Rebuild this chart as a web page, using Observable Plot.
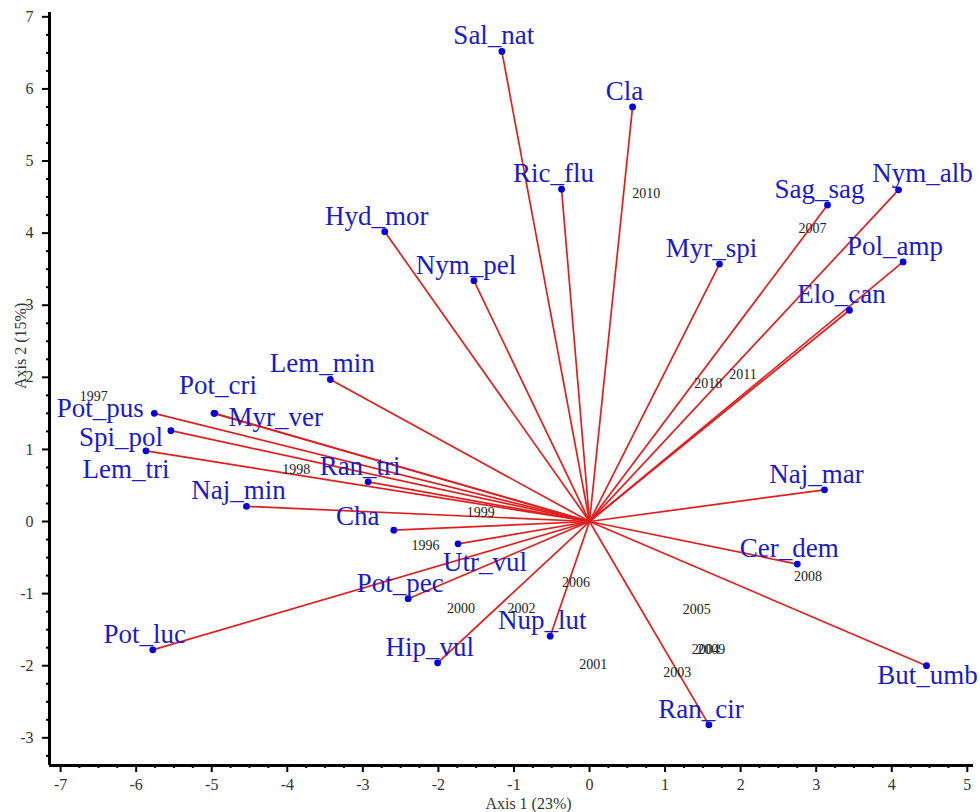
<!DOCTYPE html>
<html>
<head>
<meta charset="utf-8">
<script src="https://cdn.jsdelivr.net/npm/d3@7"></script>
<script src="https://cdn.jsdelivr.net/npm/@observablehq/plot@0.6"></script>
<style>
  html, body { margin: 0; padding: 0; background: #fff; }
  #chart svg { display: block; }
</style>
</head>
<body>
<div id="chart"></div>
<script>
// ---- data (species vectors) ----
const species = ["Sal_nat","Cla","Ric_flu","Hyd_mor","Nym_pel","Lem_min","Pot_cri","Myr_ver",
  "Pot_pus","Spi_pol","Lem_tri","Naj_min","Ran_tri","Cha","Utr_vul","Pot_pec","Hip_vul",
  "Nup_lut","Pot_luc","Ran_cir","But_umb","Cer_dem","Naj_mar","Elo_can","Pol_amp","Nym_alb",
  "Sag_sag","Myr_spi"];
const speciesAxis1 = [-1.16, 0.57, -0.37, -2.71, -1.53, -3.43, -4.97, -4.96,
  -5.76, -5.54, -5.87, -4.54, -2.93, -2.59, -1.74, -2.40, -2.01,
  -0.52, -5.78, 1.58, 4.46, 2.75, 3.11, 3.44, 4.15, 4.09,
  3.15, 1.72];
const speciesAxis2 = [6.52, 5.75, 4.61, 4.02, 3.34, 1.97, 1.50, 1.50,
  1.50, 1.26, 0.98, 0.21, 0.55, -0.12, -0.31, -1.07, -1.96,
  -1.59, -1.78, -2.82, -2.00, -0.59, 0.44, 2.93, 3.60, 4.60,
  4.39, 3.57];

// ---- data (sample years) ----
const years = ["1996","1997","1998","1999","2000","2001","2002","2003","2004","2005",
  "2006","2007","2008","2009","2010","2011","2018"];
const yearAxis1 = [-2.17, -6.56, -3.88, -1.44, -1.70, 0.05, -0.90, 1.16, 1.54, 1.42,
  -0.18, 2.95, 2.89, 1.61, 0.75, 2.03, 1.57];
const yearAxis2 = [-0.33, 1.74, 0.72, 0.12, -1.21, -1.98, -1.21, -2.10, -1.77, -1.22,
  -0.84, 4.06, -0.76, -1.77, 4.55, 2.04, 1.91];

// ---- axes ----
const xTicks = [-7,-6,-5,-4,-3,-2,-1,0,1,2,3,4,5];
const yTicks = [-3,-2,-1,0,1,2,3,4,5,6,7];
const xDomain = [-7.147, 5.082];
const yDomain = [-3.384, 7.06];
const xTitle = "Axis 1 (23%)";
const yTitle = "Axis 2 (15%)";

// ---- styling (label nudges in pixels) ----
const defaultNudge = [-8, -7];
const labelNudge = {
  "Pot_cri": [4, -19], "Myr_ver": [61, 13], "Pot_pus": [-54, 4], "Spi_pol": [-50, 15],
  "Lem_tri": [-20, 27], "Cha": [-36, -5], "Utr_vul": [27, 27], "But_umb": [1, 18],
  "Nym_alb": [24, -8]
};
const RED = "#e01e1e", BLUE_DOT = "#0000dc", BLUE_TXT = "#1a1ac8";

const spData = species.map((name, i) => ({name, x: speciesAxis1[i], y: speciesAxis2[i]}));
const yrData = years.map((name, i) => ({name, x: yearAxis1[i], y: yearAxis2[i]}));

const minorX = d3.range(-7, 5.01, 0.25).filter(v => Math.abs(v - Math.round(v)) > 1e-6);
const minorY = d3.range(-3.25, 7.01, 0.25).filter(v => Math.abs(v - Math.round(v)) > 1e-6);

const labelMarks = spData.map(d => {
  const [dx, dy] = labelNudge[d.name] || defaultNudge;
  return Plot.text([d], {x: "x", y: "y", text: "name", dx, dy,
    textAnchor: "middle", lineAnchor: "bottom", fill: BLUE_TXT, fontSize: 27});
});

const chart = Plot.plot({
  width: 980,
  height: 812,
  marginLeft: 49,
  marginRight: 7,
  marginTop: 12,
  marginBottom: 47,
  style: {fontFamily: "'Liberation Serif', 'Times New Roman', serif", background: "white", overflow: "visible"},
  x: {domain: xDomain, axis: null},
  y: {domain: yDomain, axis: null},
  marks: [
    // vectors
    Plot.link(spData, {x1: 0, y1: 0, x2: "x", y2: "y", stroke: RED, strokeWidth: 1.7}),
    Plot.dot(spData, {x: "x", y: "y", r: 3.4, fill: BLUE_DOT}),
    ...labelMarks,
    Plot.text(yrData, {x: "x", y: "y", text: "name", fontSize: 14, fill: "#222"}),
    // axes
    Plot.axisX({ticks: xTicks, tickSize: 7, tickPadding: 6, fontSize: 16, fill: "#333",
      tickFormat: d => String(d), label: null, strokeWidth: 2}),
    Plot.axisX({ticks: minorX, tickSize: 3, text: null, label: null, strokeWidth: 2}),
    Plot.axisY({ticks: yTicks, tickSize: 7, tickPadding: 9, fontSize: 16, fill: "#333",
      tickFormat: d => String(d), label: null, strokeWidth: 2}),
    Plot.axisY({ticks: minorY, tickSize: 3, text: null, label: null, strokeWidth: 2}),
    Plot.ruleX([xDomain[0]], {stroke: "black", strokeWidth: 3}),
    Plot.ruleY([yDomain[0]], {stroke: "black", strokeWidth: 3}),
    Plot.text([xTitle], {frameAnchor: "bottom", lineAnchor: "bottom", dy: 43, dx: 17,
      fontSize: 16, fill: "#333"}),
    Plot.text([yTitle], {frameAnchor: "left", rotate: -90, dx: -29,
      fontSize: 16, fill: "#333"})
  ]
});
document.getElementById("chart").appendChild(chart);
</script>
</body>
</html>
